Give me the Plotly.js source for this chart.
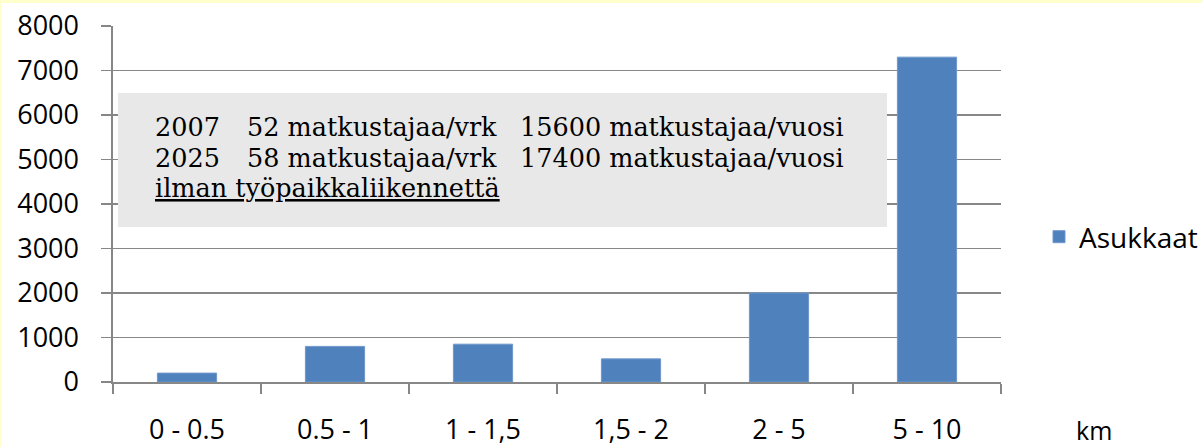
<!DOCTYPE html>
<html>
<head>
<meta charset="utf-8">
<script src="https://cdn.plot.ly/plotly-3.0.1.min.js"></script>
<style>
  html, body { margin: 0; padding: 0; background: #FFFFCC; }
  #wrap { position: absolute; left: 1px; top: 3px; width: 1201px; height: 444px; background: #ffffff; }
  #chart { width: 1201px; height: 444px; }
</style>
</head>
<body>
<div id="wrap"><div id="chart"></div></div>
<script>
// Data
const categories = ["0 - 0.5", "0.5 - 1", "1 - 1,5", "1,5 - 2", "2 - 5", "5 - 10"];
const asukkaat = [200, 800, 850, 520, 2000, 7300];
const seriesName = "Asukkaat";
const unitLabel = "km";
const noteYears = ["2007", "2025"];
const notePerDay = ["52 matkustajaa/vrk", "58 matkustajaa/vrk"];
const notePerYear = ["15600 matkustajaa/vuosi", "17400 matkustajaa/vuosi"];
const noteFooter = "ilman työpaikkaliikennettä";

// Layout geometry (pixels, relative to chart div)
const W = 1201, H = 444;
const L = 112, R = 1000, T = 23, B = 379;
const px = x => (x - L) / (R - L);
const py = y => (B - y) / (B - T);

const sans = "Open Sans, Noto Sans, sans-serif";
const serif = "DejaVu Serif, serif";
const gridCol = "#878787";

const trace = {
  type: "bar",
  x: categories,
  y: asukkaat,
  name: seriesName,
  marker: { color: "#4F81BD", line: { color: "#6f98cc", width: 1 } },
  showlegend: true,
  hoverinfo: "x+y"
};

const noteSize = 25.5;
const annotations = [];
const rowY = [124, 155];
noteYears.forEach((yr, i) => {
  annotations.push({ xref: "paper", yref: "paper", x: px(152), y: py(rowY[i]), xanchor: "left", yanchor: "middle",
    text: yr, showarrow: false, font: { family: serif, size: noteSize, color: "#000" } });
  annotations.push({ xref: "paper", yref: "paper", x: px(244), y: py(rowY[i]), xanchor: "left", yanchor: "middle",
    text: notePerDay[i], showarrow: false, font: { family: serif, size: noteSize, color: "#000" } });
  annotations.push({ xref: "paper", yref: "paper", x: px(517), y: py(rowY[i]), xanchor: "left", yanchor: "middle",
    text: notePerYear[i], showarrow: false, font: { family: serif, size: noteSize, color: "#000" } });
});
annotations.push({ xref: "paper", yref: "paper", x: px(152), y: py(185), xanchor: "left", yanchor: "middle",
  text: noteFooter, showarrow: false, font: { family: serif, size: noteSize, color: "#000", lineposition: "under" } });
annotations.push({ xref: "paper", yref: "paper", x: px(1073), y: py(427), xanchor: "left", yanchor: "middle",
  text: unitLabel, showarrow: false, font: { family: sans, size: 25, color: "#000" } });

const layout = {
  width: W, height: H,
  margin: { l: L, r: W - R, t: T, b: H - B, pad: 0, autoexpand: false },
  paper_bgcolor: "#ffffff",
  plot_bgcolor: "#ffffff",
  bargap: 0.6,
  font: { family: sans, size: 27, color: "#000" },
  xaxis: {
    type: "category",
    showgrid: false,
    showline: true, linecolor: gridCol, linewidth: 1.6,
    ticks: "outside", tickson: "boundaries", ticklen: 10, tickcolor: gridCol, tickwidth: 1.6,
    ticklabelstandoff: 23,
    tickfont: { family: sans, size: 27, color: "#000" },
    zeroline: false, fixedrange: true, automargin: false
  },
  yaxis: {
    range: [0, 8000], dtick: 1000, tick0: 0,
    showgrid: true, gridcolor: gridCol, gridwidth: 1.6,
    showline: true, linecolor: gridCol, linewidth: 1.6,
    ticks: "outside", ticklen: 10, tickcolor: gridCol, tickwidth: 1.6,
    ticklabelstandoff: 17,
    tickfont: { family: sans, size: 27, color: "#000" },
    zeroline: false, fixedrange: true, automargin: false
  },
  legend: {
    x: px(1038), y: py(234), xanchor: "left", yanchor: "middle",
    font: { family: sans, size: 28, color: "#000" },
    bgcolor: "rgba(0,0,0,0)"
  },
  shapes: [{
    type: "rect", xref: "paper", yref: "paper", layer: "above",
    x0: px(117), x1: px(886), y0: py(224), y1: py(90),
    fillcolor: "#E8E8E8", line: { width: 0 }
  }],
  annotations: annotations
};

Plotly.newPlot("chart", [trace], layout, { displayModeBar: false, staticPlot: true });
</script>
</body>
</html>
